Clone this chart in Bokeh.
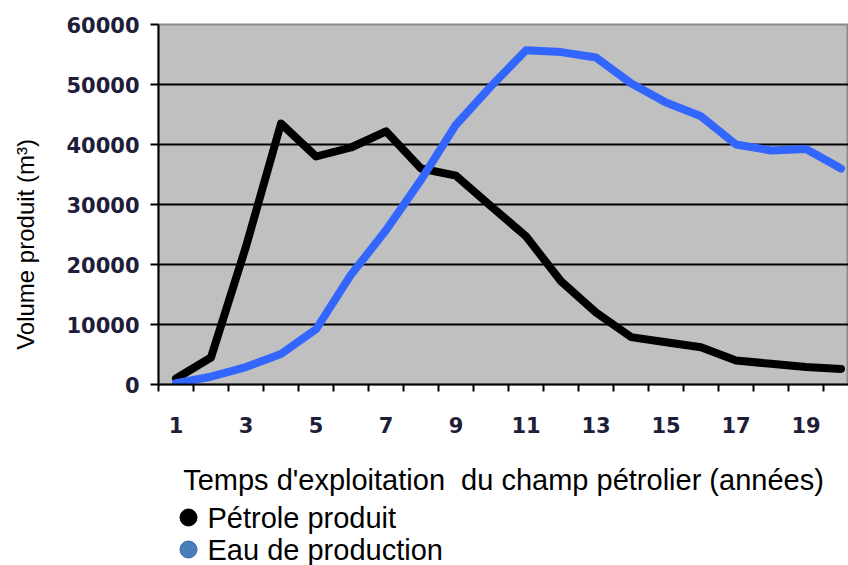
from bokeh.plotting import figure
from bokeh.layouts import column
from bokeh.models import Range1d, FixedTicker
from bokeh.core.properties import value
from bokeh.embed import file_html
from bokeh.resources import INLINE

# Data (years 1..20)
years = list(range(1, 21))
petrole = [1000, 4500, 23000, 43500, 38000, 39500, 42200, 36000, 34800, 29700,
           24700, 17200, 12000, 7900, 7050, 6200, 4000, 3450, 2900, 2600]
eau = [200, 1300, 2900, 5100, 9200, 18300, 25700, 34100, 43300, 49700,
       55700, 55400, 54500, 50200, 47000, 44700, 40000, 39000, 39250, 36000]
x_tick_labels = [1, 3, 5, 7, 9, 11, 13, 15, 17, 19]
y_ticks = [0, 10000, 20000, 30000, 40000, 50000, 60000]

x_title = "Temps d'exploitation\u00a0 du champ pétrolier (années)"
y_title = "Volume produit (m³)"
legend_names = ["Pétrole produit", "Eau de production"]
line_colors = ["#000000", "#3366FF"]
dot_colors = ["#000000", "#4A7EBB"]

# layout (pixels)
W, H = 848, 565
LEG_H = 62
MAIN_H = H - LEG_H
LEFT, TOP, BOTTOM = 158, 24, 384
px_per_year = 35.0
x0 = 0.5
x1 = x0 + (W - LEFT) / px_per_year

p = figure(width=W, height=MAIN_H, output_backend="svg", toolbar_location=None,
           x_range=Range1d(x0, x1), y_range=Range1d(0, 60000),
           min_border_left=LEFT, min_border_right=0, min_border_top=TOP,
           min_border_bottom=MAIN_H - BOTTOM,
           background_fill_color="#C0C0C0", border_fill_color="white",
           outline_line_color="#8A8A8A", outline_line_width=2)

# grid
p.xgrid.visible = False
p.ygrid.ticker = FixedTicker(ticks=y_ticks[1:-1])
p.ygrid.grid_line_color = "black"
p.ygrid.grid_line_width = 2

# y axis
ya = p.yaxis[0]
ya.ticker = FixedTicker(ticks=y_ticks)
ya.axis_line_color = "black"
ya.axis_line_width = 2
ya.major_tick_line_color = "black"
ya.major_tick_line_width = 2
ya.major_tick_out = 8
ya.major_tick_in = 0
ya.minor_tick_line_color = None
ya.major_label_text_font = "DejaVu Sans"
ya.major_label_text_font_style = "bold"
ya.major_label_text_font_size = "21px"
ya.major_label_text_color = "#1E1E3A"
ya.major_label_standoff = 11
# trailing no-break spaces push the (centred) title down, as in the reference
ya.axis_label = y_title + "\u00a0" * 12
ya.axis_label_text_font = "Liberation Sans"
ya.axis_label_text_font_style = "normal"
ya.axis_label_text_font_size = "24px"
ya.axis_label_text_color = "black"
ya.axis_label_standoff = 24

# x axis
xa = p.xaxis[0]
xa.ticker = FixedTicker(ticks=x_tick_labels,
                        minor_ticks=[y + 0.5 for y in range(0, 21)])
xa.axis_line_color = "black"
xa.axis_line_width = 2
xa.major_tick_line_color = None
xa.major_tick_out = 0
xa.major_tick_in = 0
xa.minor_tick_line_color = "black"
xa.minor_tick_line_width = 2
xa.minor_tick_out = 7
xa.minor_tick_in = 0
xa.major_label_text_font = "DejaVu Sans"
xa.major_label_text_font_style = "bold"
xa.major_label_text_font_size = "21px"
xa.major_label_text_color = "#1E1E3A"
xa.major_label_standoff = 25
xa.axis_label = x_title
xa.axis_label_text_font = "Liberation Sans"
xa.axis_label_text_font_style = "normal"
xa.axis_label_text_font_size = "29px"
xa.axis_label_text_color = "black"
xa.axis_label_standoff = 28

# lines
p.line(years, petrole, line_color=line_colors[0], line_width=8,
       line_join="round", line_cap="round")
p.line(years, eau, line_color=line_colors[1], line_width=8,
       line_join="round", line_cap="round")

# legend strip (separate small figure under the chart; its frame is aligned
# with the chart frame, so x in canvas pixels = LEFT .. W)
leg = figure(width=W, height=LEG_H, output_backend="svg", toolbar_location=None,
             x_range=Range1d(LEFT, W), y_range=Range1d(LEG_H, 0),
             min_border=0, outline_line_color=None,
             background_fill_color="white", border_fill_color="white")
leg.axis.visible = False
leg.grid.visible = False
leg_rows = [14, 46]
leg.scatter(x=[188, 188], y=leg_rows, size=17, marker="circle",
            fill_color=dot_colors, line_color=["#000000", "#3A68A0"],
            line_width=1)
leg.text(x=[207, 207], y=leg_rows, text=legend_names,
         text_font=value("Liberation Sans"), text_font_size="29px",
         text_color="black", text_align="left", text_baseline="middle")

layout = column(p, leg, spacing=0)
open("out.html", "w").write(file_html(layout, INLINE))
